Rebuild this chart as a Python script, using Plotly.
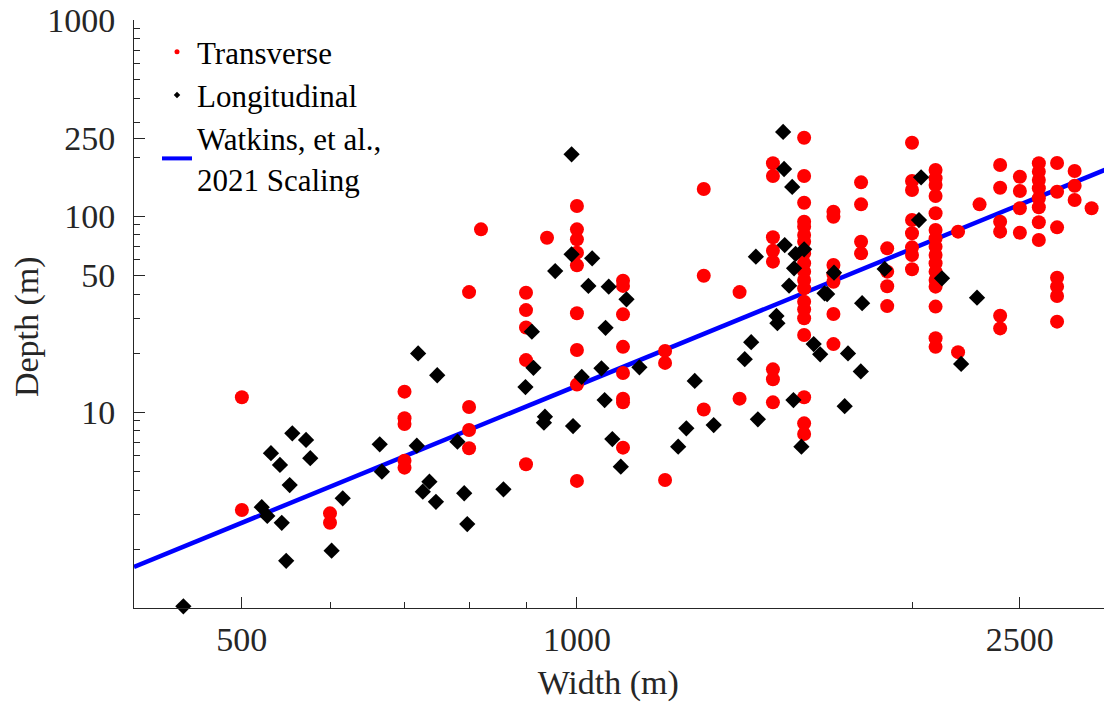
import math
import plotly.graph_objects as go

# ---------------- data ----------------
trans_width = (
    [500, 500]
    + [600, 600]
    + [700] * 5
    + [800] * 4
    + [820]
    + [900] * 5
    + [940]
    + [1000] * 9
    + [1100] * 8
    + [1200] * 3
    + [1300] * 3
    + [1400] * 2
    + [1500] * 8
    + [1600] * 19
    + [1700] * 7
    + [1800] * 4
    + [1900] * 4
    + [2000] * 8
    + [2100] * 16
    + [2200] * 2
    + [2300]
    + [2400] * 6
    + [2500] * 4
    + [2600] * 8
    + [2700] * 7
    + [2800] * 3
    + [2900]
)
trans_depth = [
    11.9, 3.16,
    3.04, 2.72,
    12.7, 9.29, 8.69, 5.64, 5.20,
    40.9, 10.6, 8.09, 6.53,
    85.5,
    40.6, 33.1, 27.0, 18.4, 5.41,
    77.5,
    112.4, 85.5, 76.0, 65.0, 56.0, 31.9, 20.7, 13.8, 4.45,
    46.8, 44.0, 31.5, 21.5, 15.8, 11.7, 11.2, 6.58,
    20.5, 17.8, 4.50,
    137.3, 49.6, 10.3,
    40.9, 11.7,
    185.8, 160.0, 77.9, 66.5, 58.5, 16.5, 14.7, 11.2,
    250.9, 160.0, 116.9, 93.5, 88.2, 80.0, 73.9, 64.5, 57.4, 52.0,
    47.2, 42.8, 36.5, 33.4, 30.1, 24.7, 11.9, 8.75, 7.72,
    105.2, 99.2, 56.2, 50.4, 46.2, 31.6, 22.2,
    148.5, 114.7, 73.9, 64.5,
    68.4, 52.0, 43.8, 34.7,
    236.6, 150.8, 135.7, 95.4, 81.6, 69.2, 63.2, 53.5,
    171.7, 155.7, 143.9, 126.5, 103.2, 84.8, 76.9, 69.7, 63.2, 57.4,
    52.0, 47.2, 43.6, 34.5, 23.8, 21.5,
    83.2, 20.2,
    114.7,
    182.0, 139.4, 93.5, 83.2, 31.0, 26.7,
    158.7, 134.2, 109.5, 82.2,
    185.8, 168.3, 152.6, 138.5, 123.1, 110.8, 92.9, 75.4,
    186.4, 133.0, 87.5, 48.4, 43.6, 39.1, 28.9,
    169.7, 142.7, 120.7,
    109.5,
]

long_width = [
    400, 443, 521, 527, 531, 541, 543, 548, 552, 555,
    571, 576, 602, 616, 665, 668, 720, 718, 749, 737,
    727, 747, 781, 792, 797, 859, 911, 914, 899, 936,
    934, 989, 989, 1032, 956, 1024, 1068, 1108, 1061, 1010,
    1052, 1138, 1059, 992, 1076, 1095, 1276, 1254, 1233, 1327,
    1415, 1434, 1532, 1535, 1561, 1537, 1572, 1600, 1567, 1551,
    1448, 1511, 1514, 1454, 1565, 1591, 1632, 1654, 1669, 1678,
    1702, 1752, 1799, 1740, 1804, 1890, 2038, 2029, 2128, 2288,
    2214,
]
long_depth = [
    1.58, 1.02, 3.27, 2.95, 6.16, 5.37, 2.72, 1.74, 4.24, 7.78,
    7.20, 5.81, 1.96, 3.63, 6.84, 4.96, 19.9, 6.73, 15.4, 4.41,
    3.92, 3.48, 7.06, 3.85, 2.68, 4.03, 25.7, 16.8, 13.4, 9.46,
    8.82, 206.4, 63.8, 60.8, 52.4, 44.0, 43.6, 37.6, 26.9, 15.1,
    16.7, 16.9, 11.5, 8.48, 7.28, 5.26, 14.4, 8.26, 6.65, 8.58,
    18.6, 22.7, 268.3, 173.7, 140.6, 71.1, 64.0, 67.6, 54.1, 44.1,
    62.0, 30.9, 28.4, 9.18, 11.5, 6.65, 22.2, 19.7, 40.3, 40.0,
    51.4, 19.9, 16.1, 10.7, 35.9, 53.7, 157.6, 95.4, 48.1, 38.3,
    17.6,
]

scaling_width = [400, 3000]
scaling_depth = [1.62, 174.5]

x_tick_vals = [500, 1000, 2500]
x_tick_text = ["500", "1000", "2500"]
x_minor_vals = [400, 600, 700, 800, 900, 2000, 3000]
y_tick_vals = [10, 50, 100, 250, 1000]
y_tick_text = ["10", "50", "100", "250", "1000"]
y_minor_vals = [1, 2, 3, 4, 5, 6, 7, 8, 9, 20, 30, 40, 60, 70, 80, 90,
                200, 300, 400, 500, 600, 700, 800, 900]

legend_names = ["Transverse", "Longitudinal", "Watkins, et al.,<br>2021 Scaling"]
x_title = "Width (m)"
y_title = "Depth (m)"

# ---------------- figure ----------------
AX = "#262626"
FONT = "Liberation Serif, Times New Roman, serif"
PAD = "&nbsp;" * 3  # trailing pad nudges the axis titles off-centre as in the reference
# the page body has an 8 px default margin, so the figure is 8 px smaller
W, H = 1104, 697
L, R, T, B = 126, 4, 12, 97
PW, PH = W - L - R, H - T - B

fig = go.Figure()

fig.add_trace(go.Scatter(
    x=scaling_width, y=scaling_depth, mode="lines",
    line=dict(color="#0000FF", width=4.5), showlegend=False, hoverinfo="skip",
))
fig.add_trace(go.Scatter(
    x=trans_width, y=trans_depth, mode="markers",
    marker=dict(symbol="circle", size=14, color="#FF0000", line=dict(width=0)),
    showlegend=False, cliponaxis=False,
))
fig.add_trace(go.Scatter(
    x=long_width, y=long_depth, mode="markers",
    marker=dict(symbol="diamond", size=12.5, color="#000000", line=dict(width=0)),
    showlegend=False, cliponaxis=False,
))

# legend entries (small symbols as in the reference)
fig.add_trace(go.Scatter(x=[None], y=[None], mode="markers", name=legend_names[0],
                         marker=dict(symbol="circle", size=5, color="#FF0000")))
fig.add_trace(go.Scatter(x=[None], y=[None], mode="markers", name=legend_names[1],
                         marker=dict(symbol="diamond", size=5, color="#000000")))
fig.add_trace(go.Scatter(x=[None], y=[None], mode="lines", name=legend_names[2],
                         line=dict(color="#0000FF", width=4)))

fig.update_layout(
    width=W, height=H,
    margin=dict(l=L, r=R, t=T, b=B, autoexpand=False),
    paper_bgcolor="white", plot_bgcolor="white",
    font=dict(family=FONT, size=34, color=AX),
    showlegend=True,
    legend=dict(
        xref="paper", yref="paper",
        x=23 / PW, y=1 - 5 / PH, xanchor="left", yanchor="top",
        bgcolor="rgba(0,0,0,0)", borderwidth=0,
        font=dict(family=FONT, size=31, color="black"),
        tracegroupgap=0, itemwidth=30,
    ),
    xaxis=dict(
        type="log", range=[math.log10(400), math.log10(3000)], automargin=False,
        tickmode="array", tickvals=x_tick_vals, ticktext=x_tick_text,
        ticks="inside", ticklen=11, tickwidth=1, tickcolor=AX,
        minor=dict(tickmode="array", tickvals=x_minor_vals, ticks="inside",
                   ticklen=6, tickwidth=1, tickcolor=AX, showgrid=False),
        showline=True, linecolor=AX, linewidth=1, showgrid=False, zeroline=False,
        ticklabelstandoff=1, ticklabeloverflow="allow",
        tickfont=dict(family=FONT, size=34, color=AX),
        title=dict(text=x_title + PAD, font=dict(family=FONT, size=34, color=AX), standoff=13),
    ),
    yaxis=dict(
        type="log", range=[0, 3], automargin=False,
        tickmode="array", tickvals=y_tick_vals, ticktext=y_tick_text,
        ticks="inside", ticklen=11, tickwidth=1, tickcolor=AX,
        minor=dict(tickmode="array", tickvals=y_minor_vals, ticks="inside",
                   ticklen=6, tickwidth=1, tickcolor=AX, showgrid=False),
        showline=True, linecolor=AX, linewidth=1, showgrid=False, zeroline=False,
        ticklabelstandoff=11, ticklabeloverflow="allow",
        tickfont=dict(family=FONT, size=34, color=AX),
        title=dict(text=y_title + PAD, font=dict(family=FONT, size=34, color=AX), standoff=15),
    ),
)

fig.write_html("out.html")
